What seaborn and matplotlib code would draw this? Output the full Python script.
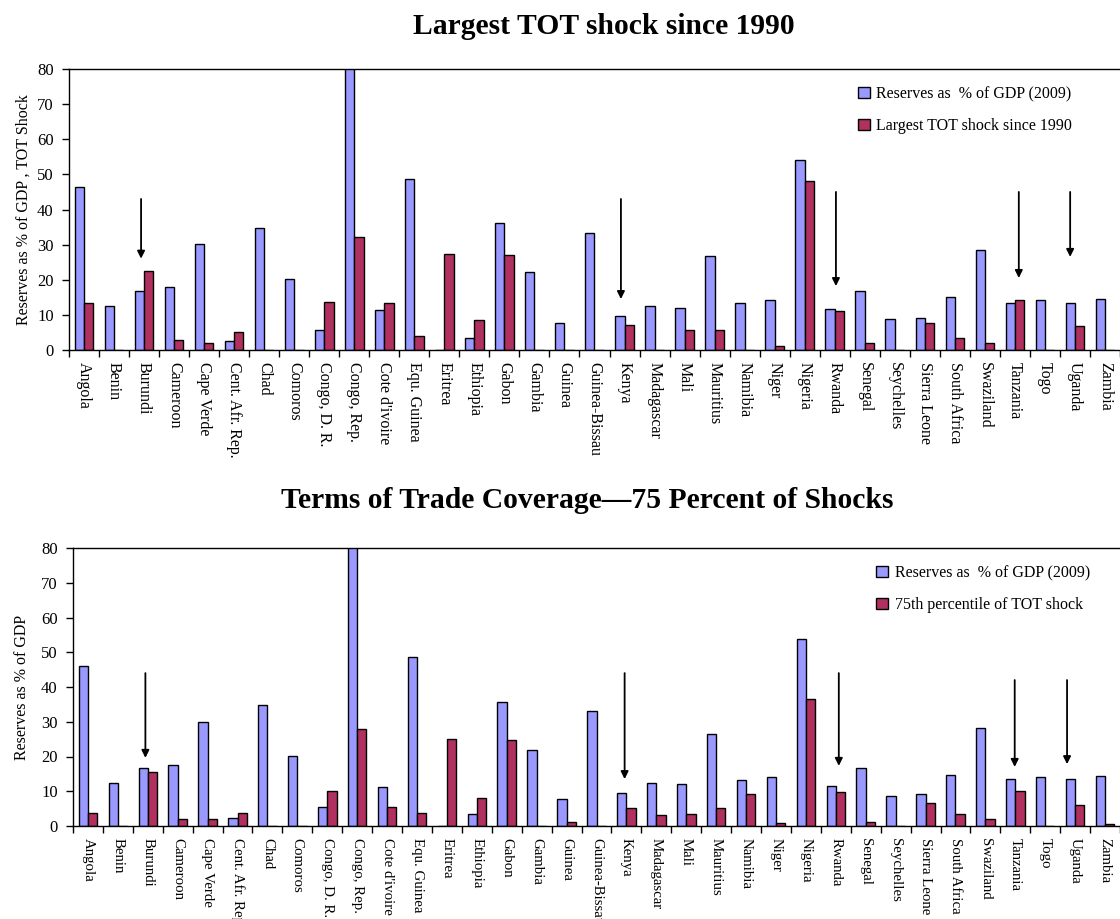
import numpy as np
import pandas as pd
import matplotlib
matplotlib.use("Agg")
import matplotlib.pyplot as plt
import seaborn as sns

sns.set_theme(style="white")
plt.rcParams['font.family'] = ['Liberation Serif', 'DejaVu Serif']
plt.rcParams['text.color'] = 'black'
plt.rcParams['axes.labelcolor'] = 'black'
plt.rcParams['xtick.color'] = 'black'
plt.rcParams['ytick.color'] = 'black'

countries = ["Angola", "Benin", "Burundi", "Cameroon", "Cape Verde", "Cent. Afr. Rep.", "Chad",
             "Comoros", "Congo, D. R.", "Congo, Rep.", "Cote d'ivoire", "Equ. Guinea", "Eritrea",
             "Ethiopia", "Gabon", "Gambia", "Guinea", "Guinea-Bissau", "Kenya", "Madagascar", "Mali",
             "Mauritius", "Namibia", "Niger", "Nigeria", "Rwanda", "Senegal", "Seychelles",
             "Sierra Leone", "South Africa", "Swaziland", "Tanzania", "Togo", "Uganda", "Zambia"]

reserves_top = [46.4, 12.6, 16.9, 18.0, 30.2, 2.5, 34.7, 20.3, 5.6, 92.0, 11.3, 48.8, 0.0,
                3.5, 36.1, 22.1, 7.7, 33.3, 9.8, 12.6, 12.0, 26.7, 13.3, 14.1, 54.1, 11.6,
                16.9, 8.7, 9.1, 15.1, 28.4, 13.3, 14.1, 13.3, 14.4]
largest_shock = [13.3, 0.0, 22.5, 2.8, 2.1, 5.2, 0.0, 0.0, 13.7, 32.3, 13.3, 3.9, 27.4,
                 8.5, 27.1, 0.0, 0.0, 0.0, 7.0, 0.0, 5.6, 5.6, 0.0, 1.1, 48.1, 11.2,
                 2.1, 0.0, 7.7, 3.5, 2.1, 14.1, 0.0, 6.7, 0.0]

reserves_bot = [46.1, 12.3, 16.6, 17.6, 29.8, 2.3, 34.8, 20.2, 5.6, 92.0, 11.2, 48.6, 0.0,
                3.4, 35.8, 21.9, 7.7, 33.2, 9.4, 12.3, 12.0, 26.6, 13.1, 14.1, 53.9, 11.6,
                16.6, 8.7, 9.1, 14.8, 28.3, 13.4, 14.1, 13.4, 14.5]
pct75_shock = [3.7, 0.0, 15.6, 2.0, 2.0, 3.7, 0.0, 0.0, 10.2, 28.0, 5.6, 3.7, 25.1,
               8.1, 24.8, 0.0, 1.2, 0.0, 5.2, 3.1, 3.4, 5.2, 9.1, 0.9, 36.5, 9.8,
               1.2, 0.0, 6.6, 3.4, 2.0, 10.2, 0.0, 6.0, 0.6]

label_res = "Reserves as  % of GDP (2009)"
label_top = "Largest TOT shock since 1990"
label_bot = "75th percentile of TOT shock"

title_top = "Largest TOT shock since 1990"
title_bot = "Terms of Trade Coverage\u201475 Percent of Shocks"
ylabel_top = "Reserves as % of GDP , TOT Shock"
ylabel_bot = "Reserves as % of GDP"

# arrows: (country, x offset within category, y start, y end)
arrows_top = [("Burundi", -0.10, 43, 26), ("Kenya", -0.12, 43, 14.5), ("Rwanda", 0.04, 45, 18.2),
              ("Tanzania", 0.13, 45, 20.5), ("Uganda", -0.16, 45, 26.5)]
arrows_bot = [("Burundi", -0.08, 44, 19.6), ("Kenya", -0.06, 44, 13.5), ("Rwanda", 0.10, 44, 17.3),
              ("Tanzania", -0.02, 42, 17.0), ("Uganda", -0.27, 42, 17.8)]

BLUE = "#9999FF"
RED = "#B03060"

W, H = 1120, 919
fig = plt.figure(figsize=(W / 100, H / 100), dpi=100)


def panel(rect, res, shock, shock_label, title, ylabel, arrows, xmax, title_y, title_x,
          xlabel_size, legend_anchor, ylabelpad):
    ax = fig.add_axes(rect)
    df = pd.DataFrame({
        "country": countries * 2,
        "value": list(res) + list(shock),
        "series": [label_res] * len(countries) + [shock_label] * len(countries),
    })
    sns.barplot(data=df, x="country", y="value", hue="series", order=countries,
                hue_order=[label_res, shock_label], palette=[BLUE, RED],
                width=0.62, edgecolor="black", linewidth=1.0, saturation=1, ax=ax,
                errorbar=None)
    n = len(countries)
    ax.set_xlim(-0.5, xmax)
    ax.set_ylim(0, 80)
    ax.set_yticks(np.arange(0, 81, 10))
    ax.tick_params(axis="y", labelsize=12, length=5, width=1, direction="out", left=True, pad=6)
    # major ticks at category boundaries, labels at minor ticks (centres)
    ax.set_xticks(np.arange(-0.5, n + 0.5, 1))
    ax.set_xticklabels([])
    ax.set_xticks(np.arange(n), minor=True)
    ax.set_xticklabels(countries, minor=True, rotation=270, fontsize=xlabel_size,
                       va="top", ha="center")
    ax.tick_params(axis="x", which="major", length=5, width=1, direction="out", bottom=True)
    ax.tick_params(axis="x", which="minor", length=0, pad=9)
    for s in ["left", "bottom", "top"]:
        ax.spines[s].set_visible(True)
        ax.spines[s].set_color("black")
        ax.spines[s].set_linewidth(1.0)
    ax.spines["right"].set_visible(False)
    ax.set_xlabel("")
    ax.set_ylabel(ylabel, fontsize=11.5, labelpad=ylabelpad)
    for c, dx, y0, y1 in arrows:
        xc = countries.index(c) + dx
        ax.annotate("", xy=(xc, y1), xytext=(xc, y0),
                    arrowprops=dict(arrowstyle="-|>", color="black", lw=1.3, mutation_scale=11,
                                    shrinkA=0, shrinkB=0))
    leg = ax.legend(loc="upper right", bbox_to_anchor=legend_anchor, frameon=False,
                    fontsize=11.5, handlelength=0.75, handleheight=0.75, handletextpad=0.4,
                    labelspacing=1.0)
    for h in leg.legend_handles:
        h.set_edgecolor("black")
        h.set_linewidth(1.0)
    fig.text(title_x, title_y, title, ha="center", va="center", fontsize=21.3,
             fontweight="bold", color="black")
    return ax


panel([69 / W, 1 - 350 / H, (W - 69) / W, (350 - 69) / H], reserves_top, largest_shock, label_top,
      title_top, ylabel_top, arrows_top, 34.13, 1 - 27 / H, 604 / W, 11.5, (0.968, 0.99), 4)
panel([73 / W, 1 - 826 / H, (W - 73) / W, (826 - 548) / H], reserves_bot, pct75_shock, label_bot,
      title_bot, ylabel_bot, arrows_bot, 34.23, 1 - 500 / H, 587 / W, 10.7, (0.985, 0.99), 8)

fig.savefig("out.png", dpi=100)
